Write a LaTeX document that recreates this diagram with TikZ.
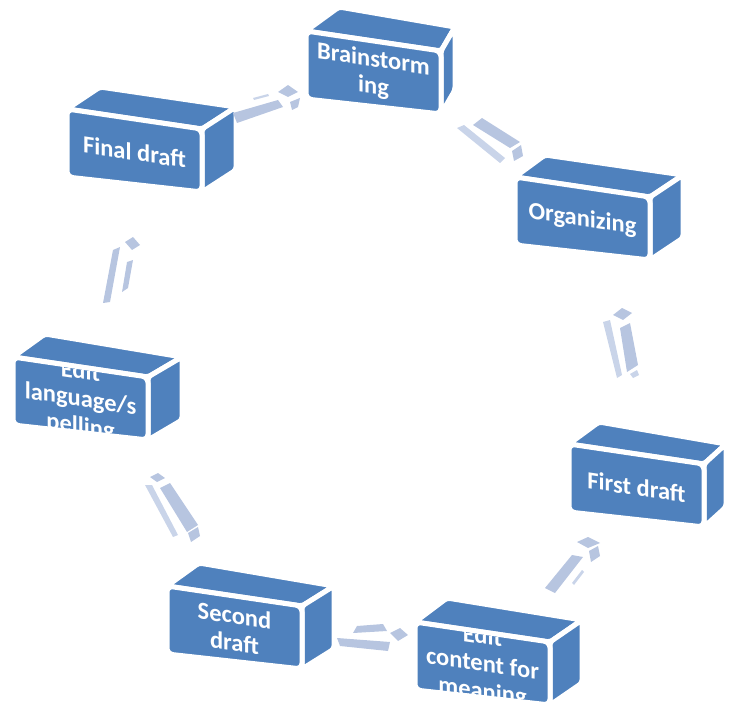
\documentclass[tikz,border=0pt]{standalone}
\usepackage{fontspec}
\setmainfont{Carlito}
\definecolor{boxblue}{HTML}{4F81BD}
\definecolor{arrowblue}{HTML}{B7C5E0}
\definecolor{arrowlight}{HTML}{C9D4E9}
\tikzset{
  face/.style={fill=boxblue, draw=white, line width=5pt, line join=round},
  frontface/.style={face, rounded corners=6pt},
  boxtext/.style={text=white, font=\bfseries\fontsize{24.5}{27.5}\selectfont,
    align=center, inner sep=0pt, transform shape, yslant=-0.148},
  arr/.style={fill=arrowblue},
  arrlight/.style={fill=arrowlight},
}
% A 3-D block: #1 name, #2 front top-left corner, #3 depth at the left,
% #4 depth at the right, #5 label
\newcommand\blockbox[5]{%
  \begin{scope}[shift={#2}]
    \coordinate (#1-p0) at (0,0);
    \coordinate (#1-p1) at (135,20);
    \coordinate (#1-p2) at (135,83);
    \coordinate (#1-p3) at (0,68);
    \path (#1-p0) ++#3 coordinate (#1-p4);
    \path (#1-p1) ++#4 coordinate (#1-p5);
    \path (#1-p2) ++#4 coordinate (#1-p6);
    \path[face, rounded corners=3pt] (#1-p0) -- (#1-p1) -- (#1-p5) -- (#1-p4) -- cycle;
    \path[face, rounded corners=3pt] (#1-p1) -- (#1-p2) -- (#1-p6) -- (#1-p5) -- cycle;
    \path[frontface] (#1-p0) -- (#1-p1) -- (#1-p2) -- (#1-p3) -- cycle;
    \begin{scope}
      \clip (2,3) -- (133,22.5) -- (133,80) -- (2,65.5) -- cycle;
      \node[boxtext] (#1) at (67.5,43) {#5};
    \end{scope}
  \end{scope}}
\begin{document}
\begin{tikzpicture}[x=1pt, y=-1pt]
  \useasboundingbox (0,0) rectangle (729,706);
  \clip (0,0) rectangle (729,706);

  % blocks of the writing cycle
  \blockbox{brain}{(306,31)}{(33,-24)}{(14,-24)}{Brainstorm\\ing}
  \blockbox{org}{(515,177)}{(30,-22)}{(33,-22)}{Organizing}
  \blockbox{first}{(569,444)}{(30,-22)}{(22,-20)}{First draft}
  \blockbox{content}{(415,622)}{(32,-24)}{(32,-22)}{Edit\\content for\\meaning}
  \blockbox{second}{(167,586)}{(32,-23)}{(32,-20)}{Second\\draft}
  \blockbox{lang}{(13,357)}{(32,-23)}{(34,-20)}{Edit\\language/s\\pelling}
  \blockbox{final}{(67,109)}{(33,-22)}{(34,-22)}{Final draft}

  % 3-D arrows between the blocks
  % final draft -> brainstorming
  \fill[arr] (233,113) -- (278,100) -- (283,107) -- (237,123) -- cycle;
  \fill[arrlight] (253,98) -- (268,94) -- (269,96) -- (254,100) -- cycle;
  \fill[arr] (278,92) -- (288,85) -- (298,92) -- (288,97) -- cycle;
  \fill[arr] (290,102) -- (300,98) -- (298,107) -- (292,110) -- cycle;
  % brainstorming -> organizing
  \fill[arrlight] (457,128) -- (464,125) -- (505,158) -- (500,163) -- cycle;
  \fill[arr] (473,125) -- (482,118) -- (520,142) -- (510,148) -- cycle;
  \fill[arr] (512,151) -- (521,145) -- (523,156) -- (514,161) -- cycle;
  % organizing -> first draft
  \fill[arr] (613,315) -- (622,308) -- (632,313) -- (623,320) -- cycle;
  \fill[arrlight] (603,322) -- (610,320) -- (622,375) -- (617,378) -- cycle;
  \fill[arr] (620,328) -- (630,323) -- (638,365) -- (627,372) -- cycle;
  \fill[arrlight] (630,374) -- (637,370) -- (639,375) -- (633,378) -- cycle;
  % first draft -> edit content
  \fill[arr] (577,542) -- (588,537) -- (600,543) -- (588,548) -- cycle;
  \fill[arr] (589,551) -- (598,546) -- (600,556) -- (591,562) -- cycle;
  \fill[arr] (545,588) -- (572,555) -- (583,557) -- (555,593) -- cycle;
  \fill[arrlight] (572,583) -- (582,570) -- (584,572) -- (574,585) -- cycle;
  % edit content -> second draft
  \fill[arr] (357,626) -- (383,624) -- (387,631) -- (353,633) -- cycle;
  \fill[arr] (337,638) -- (390,642) -- (388,651) -- (340,646) -- cycle;
  \fill[arr] (390,633) -- (400,628) -- (408,635) -- (398,641) -- cycle;
  % second draft -> edit language
  \fill[arr] (150,477) -- (158,473) -- (165,478) -- (157,482) -- cycle;
  \fill[arrlight] (145,485) -- (152,485) -- (178,535) -- (173,537) -- cycle;
  \fill[arr] (160,488) -- (170,483) -- (198,525) -- (187,532) -- cycle;
  \fill[arr] (188,533) -- (198,527) -- (200,536) -- (191,542) -- cycle;
  % edit language -> final draft
  \fill[arr] (125,242) -- (133,237) -- (140,245) -- (132,250) -- cycle;
  \fill[arr] (113,250) -- (120,247) -- (110,302) -- (103,303) -- cycle;
  \fill[arr] (127,262) -- (133,260) -- (128,288) -- (122,292) -- cycle;
\end{tikzpicture}
\end{document}
